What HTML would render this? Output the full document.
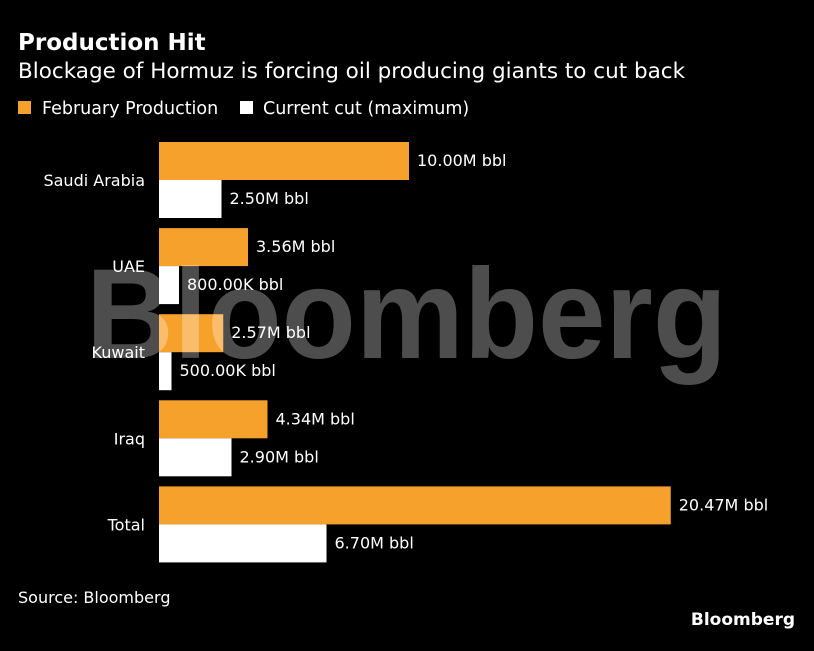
<!DOCTYPE html>
<html><head><meta charset="utf-8"><style>
body{margin:0;background:#000;width:814px;height:647px;overflow:hidden;font-family:"DejaVu Sans","Liberation Sans",sans-serif;color:#fff}
</style></head><body>
<svg width="814" height="647" xmlns="http://www.w3.org/2000/svg">
<rect width="814" height="647" fill="#000"/>
<text x="18" y="50" font-size="23" font-weight="bold" fill="#fff" font-family="DejaVu Sans,sans-serif">Production Hit</text>
<text x="18" y="78" font-size="21.5" fill="#fff" font-family="DejaVu Sans,sans-serif">Blockage of Hormuz is forcing oil producing giants to cut back</text>
<g font-size="17.5" font-family="DejaVu Sans,sans-serif">
<rect x="18" y="101" width="13" height="13" fill="#f7a12d"/>
<text x="42" y="114" fill="#fff">February Production</text>
<rect x="240" y="101" width="13" height="13" fill="#fff"/>
<text x="263" y="114" fill="#fff">Current cut (maximum)</text>
</g>
<g id="bars"></g>
<text x="86" y="358" font-size="128" font-weight="bold" fill="#fff" fill-opacity="0.3" font-family="Liberation Sans,sans-serif" textLength="641" lengthAdjust="spacingAndGlyphs">Bloomberg</text>
<text x="18" y="603" font-size="16" fill="#fff" font-family="DejaVu Sans,sans-serif">Source: Bloomberg</text>
<text x="795" y="625" font-size="17" font-weight="bold" fill="#fff" text-anchor="end" font-family="DejaVu Sans,sans-serif">Bloomberg</text>
</svg>
<script>
const categories=["Saudi Arabia","UAE","Kuwait","Iraq","Total"];
const febValues=[10.00,3.56,2.57,4.34,20.47];
const cutValues=[2.50,0.80,0.50,2.90,6.70];
const febLabels=["10.00M bbl","3.56M bbl","2.57M bbl","4.34M bbl","20.47M bbl"];
const cutLabels=["2.50M bbl","800.00K bbl","500.00K bbl","2.90M bbl","6.70M bbl"];
const NS="http://www.w3.org/2000/svg";
const x0=159, pxPerUnit=25;
const xScale=v=>x0+v*pxPerUnit;
const groupTop=i=>142+i*86.1;
const bh=38;
const g=document.getElementById('bars');
function mk(tag,attrs){const e=document.createElementNS(NS,tag);for(const k in attrs)e.setAttribute(k,attrs[k]);g.appendChild(e);return e;}
categories.forEach((c,i)=>{
  const t=groupTop(i);
  const lab=mk('text',{x:145,y:t+bh+6,'font-size':16,fill:'#fff','text-anchor':'end'});
  lab.textContent=c;
  
  
  const r1=mk('rect',{x:x0,y:t,width:xScale(febValues[i])-x0,height:bh,fill:'#f7a12d'});
  
  
  const l1=mk('text',{x:xScale(febValues[i])+8,y:t+bh/2+5,'font-size':16,fill:'#fff'});
  l1.textContent=febLabels[i];
  
  
  const r2=mk('rect',{x:x0,y:t+bh,width:xScale(cutValues[i])-x0,height:bh,fill:'#fff'});
  
  
  const l2=mk('text',{x:xScale(cutValues[i])+8,y:t+bh*1.5+5,'font-size':16,fill:'#fff'});
  l2.textContent=cutLabels[i];
  
  
});
g.setAttribute('font-family','DejaVu Sans,sans-serif');
</script>
</body></html>
